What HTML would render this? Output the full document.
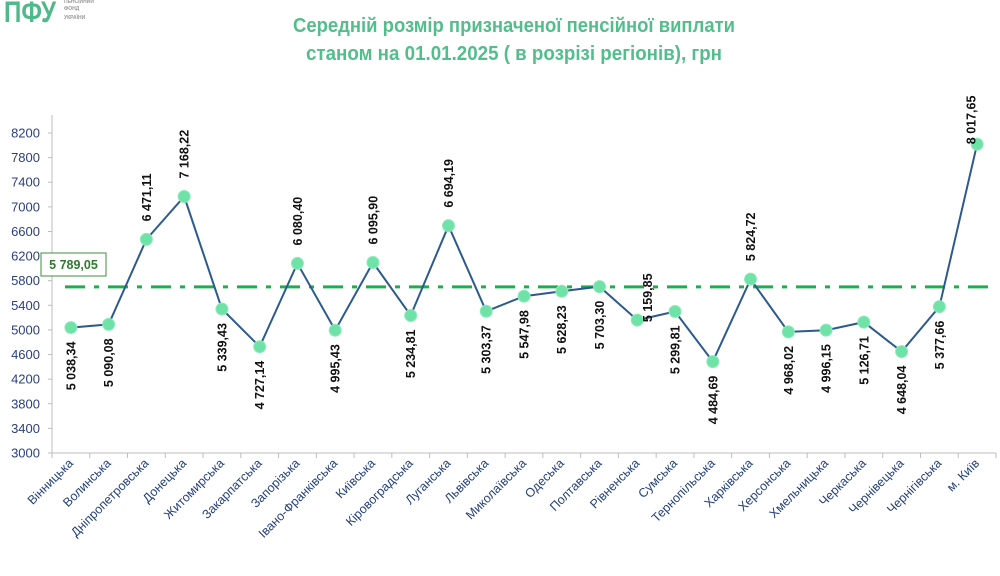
<!DOCTYPE html>
<html><head><meta charset="utf-8">
<style>
html,body{margin:0;padding:0;background:#fff;width:1000px;height:576px;overflow:hidden}
svg{display:block;font-family:"Liberation Sans",sans-serif}
</style></head><body>
<svg id="chart" width="1000" height="576">
  <g>
    <text x="4" y="22" font-size="30" font-weight="bold" fill="#4fb98a" textLength="52" lengthAdjust="spacingAndGlyphs">ПФУ</text>
    <text x="64" y="3" font-size="5" font-weight="bold" fill="#999">ПЕНСІЙНИЙ</text>
    <text x="64" y="10" font-size="5" font-weight="bold" fill="#999">ФОНД</text>
    <text x="64" y="19" font-size="5" font-weight="bold" fill="#999">УКРАЇНИ</text>
  </g>
  <text x="293" y="32" font-size="20" font-weight="bold" fill="#52be8c" textLength="442" lengthAdjust="spacingAndGlyphs">Середній розмір призначеної пенсійної виплати</text>
  <text x="306" y="60" font-size="20" font-weight="bold" fill="#52be8c" textLength="416" lengthAdjust="spacingAndGlyphs">станом на 01.01.2025 ( в розрізі регіонів), грн</text>
  <g id="axes"></g>
  <g id="marks"></g>
</svg>
<script>
const categories = ["Вінницька","Волинська","Дніпропетровська","Донецька","Житомирська","Закарпатська","Запорізька","Івано-Франківська","Київська","Кіровоградська","Луганська","Львівська","Миколаївська","Одеська","Полтавська","Рівненська","Сумська","Тернопільська","Харківська","Херсонська","Хмельницька","Черкаська","Чернівецька","Чернігівська","м. Київ"];
const values = [5038.34,5090.08,6471.11,7168.22,5339.43,4727.14,6080.40,4995.43,6095.90,5234.81,6694.19,5303.37,5547.98,5628.23,5703.30,5159.85,5299.81,4484.69,5824.72,4968.02,4996.15,5126.71,4648.04,5377.66,8017.65];
const labelPlacement = ["b","b","a","a","b","b","a","b","a","b","a","b","b","b","b","r","b","b","a","b","b","b","b","b","k"];
const yTicks = [3000,3400,3800,4200,4600,5000,5400,5800,6200,6600,7000,7400,7800,8200];
const averageValue = [5789.05];
const averageLineValue = [5700];

const NS="http://www.w3.org/2000/svg";
const X0=52,X1=996,YTOP=133,YBOT=453,VMIN=3000,VMAX=8200;
const step=(X1-X0)/categories.length;
function xPos(i){return X0+step*(i+0.5);}
function yPos(v){return YBOT-(v-VMIN)/(VMAX-VMIN)*(YBOT-YTOP);}
function mk(tag,attrs,parent){const e=document.createElementNS(NS,tag);for(const k in attrs)e.setAttribute(k,attrs[k]);parent.appendChild(e);return e;}
function fmt(v){const s=v.toFixed(2).replace('.',',');const p=s.split(',');return p[0].replace(/\B(?=(\d{3})+(?!\d))/g,' ')+','+p[1];}

const axes=document.getElementById('axes'),marks=document.getElementById('marks');
let e=mk('line',{x1:X0,y1:115,x2:X0,y2:YBOT,stroke:'#bdbdbd','stroke-width':1},axes);


e=mk('line',{x1:X0,y1:YBOT,x2:X1,y2:YBOT,stroke:'#bdbdbd','stroke-width':1},axes);


yTicks.forEach(t=>{
  const y=yPos(t);
  const tk=mk('line',{x1:X0-4,y1:y,x2:X0,y2:y,stroke:'#bdbdbd'},axes);
  
  
  const tx=mk('text',{x:X0-12,y:y+4.5,'text-anchor':'end','font-size':13,fill:'#2b3f7f'},axes);
  tx.textContent=t;
  
  
});
for(let i=0;i<=categories.length;i++){
  const x=X0+step*i;
  const tk=mk('line',{x1:x,y1:YBOT,x2:x,y2:YBOT+5,stroke:'#bdbdbd'},axes);
  
  
}
categories.forEach((c,i)=>{
  const x=xPos(i)+3,y=YBOT+11;
  const tx=mk('text',{x:x,y:y,'text-anchor':'end','font-size':12.5,fill:'#24407c',transform:`rotate(-45 ${x} ${y})`},axes);
  tx.textContent=c;
  
  
});
const ay=yPos(averageLineValue[0]);
e=mk('line',{x1:65,y1:ay,x2:X1,y2:ay,stroke:'#19b04e','stroke-width':3,'stroke-dasharray':'20 9 5 9'},marks);


e=mk('rect',{x:41,y:253,width:65,height:23,fill:'#fff',stroke:'#3e8f3e','stroke-width':1},marks);


e=mk('text',{x:73.5,y:269,'text-anchor':'middle','font-size':12.5,'font-weight':'bold',fill:'#2f7a2f'},marks);
e.textContent=fmt(averageValue[0]);


const pts=values.map((v,i)=>xPos(i).toFixed(1)+','+yPos(v).toFixed(1)).join(' ');
e=mk('polyline',{points:pts,fill:'none',stroke:'#2c5a8e','stroke-width':2},marks);


values.forEach((v,i)=>{
  const x=xPos(i),y=yPos(v);
  const c=mk('circle',{cx:x,cy:y,r:6,fill:'#6fe3a7',stroke:'#8eeabb','stroke-width':1},marks);
  
  
  const p=labelPlacement[i];
  let lx=x,ly,anchor;
  if(p==='a'){ly=y-18;anchor='start';}
  else if(p==='b'){ly=y+14;anchor='end';}
  else if(p==='r'){lx=x+10;ly=y+2;anchor='start';}
  else {lx=x-6;ly=y;anchor='start';}
  const t=mk('text',{x:lx+4.5,y:ly,'text-anchor':anchor,'font-size':12.5,'font-weight':'bold',fill:'#111',transform:`rotate(-90 ${lx+4.5} ${ly})`},marks);
  t.textContent=fmt(v);
  
  
});
</script>
</body></html>
